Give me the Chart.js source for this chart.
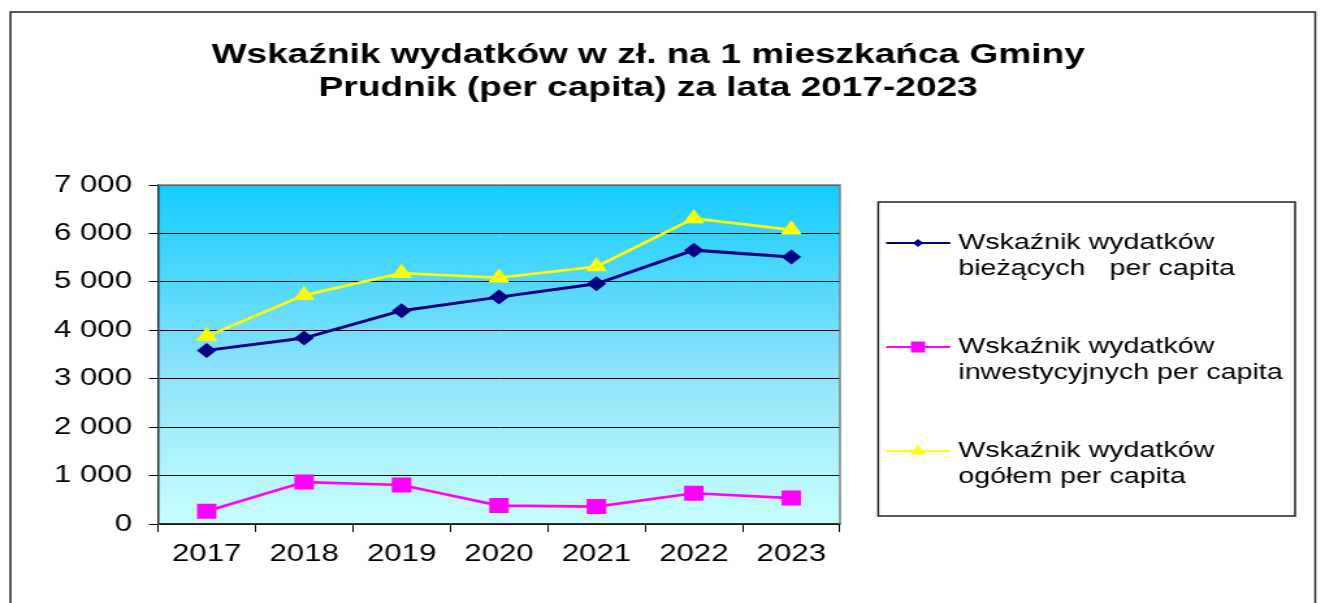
<!DOCTYPE html>
<html lang="pl">
<head>
<meta charset="UTF-8">
<title>Wskaźnik wydatków per capita</title>
<script src="https://cdn.jsdelivr.net/npm/chart.js@4.4.1/dist/chart.umd.min.js"></script>
<style>
    html, body { margin: 0; padding: 0; background: #fff; overflow: hidden; }
    /* the original picture is stretched sideways, so we draw narrow and scale */
    #wrap { width: 1019px; height: 603px; transform: scaleX(1.3003); transform-origin: 0 0; }
</style>
</head>
<body>
<div id="wrap"><canvas id="myChart"></canvas></div>
<script>
const years = ['2017', '2018', '2019', '2020', '2021', '2022', '2023'];
const biezace = [3585, 3840, 4405, 4685, 4960, 5655, 5515];
const inwestycyjne = [265, 865, 805, 380, 360, 635, 535];
const ogolem = [3875, 4725, 5180, 5085, 5315, 6310, 6075];
const legendLines = [
    ['Wskaźnik wydatków', 'bieżących   per capita'],
    ['Wskaźnik wydatków', 'inwestycyjnych per capita'],
    ['Wskaźnik wydatków', 'ogółem per capita']
];
const titleLines = ['Wskaźnik wydatków w zł. na 1 mieszkańca Gminy', 'Prudnik (per capita) za lata 2017-2023'];
const yMax = 7000;
const yStep = 1000;

const FONT = '"Liberation Sans", Arial, sans-serif';
const colors = ['#000080', '#FF00FF', '#FFFF00'];
const styles = ['rectRot', 'rect', 'triangle'];

function fmt(v) {
    return String(v).replace(/\B(?=(\d{3})+(?!\d))/g, ' ');
}

function marker(ctx, style, x, y, r, color) {
    ctx.fillStyle = color;
    ctx.beginPath();
    if (style === 'rectRot') {
        ctx.moveTo(x, y - r); ctx.lineTo(x + r, y); ctx.lineTo(x, y + r); ctx.lineTo(x - r, y);
    } else if (style === 'rect') {
        ctx.rect(x - r, y - r, 2 * r, 2 * r);
    } else {
        ctx.moveTo(x, y - r); ctx.lineTo(x + r, y + r * 0.6); ctx.lineTo(x - r, y + r * 0.6);
    }
    ctx.closePath();
    ctx.fill();
}

const decor = {
    id: 'decor',
    beforeDraw(chart) {
        const { ctx, chartArea: a } = chart;
        const g = ctx.createLinearGradient(0, a.top, 0, a.bottom);
        g.addColorStop(0, '#14CCFF');
        g.addColorStop(0.55, '#8DE3FB');
        g.addColorStop(1, '#C8FFFF');
        ctx.save();
        ctx.fillStyle = g;
        ctx.fillRect(a.left, a.top, a.right - a.left, a.bottom - a.top);
        ctx.restore();
    },
    afterDraw(chart) {
        const { ctx, chartArea: a } = chart;
        ctx.save();
        // plot frame, top and right
        ctx.strokeStyle = '#808080';
        ctx.lineWidth = 1.5;
        ctx.beginPath();
        ctx.moveTo(a.left, a.top); ctx.lineTo(a.right, a.top); ctx.lineTo(a.right, a.bottom);
        ctx.stroke();

        // outer border of the chart
        ctx.strokeStyle = '#222';
        ctx.lineWidth = 1.5;
        ctx.strokeRect(8, 12, 1003.5, 700);

        // title
        ctx.fillStyle = '#000';
        ctx.font = 'bold 28.5px ' + FONT;
        ctx.textAlign = 'center';
        ctx.textBaseline = 'middle';
        ctx.fillText(titleLines[0], 498.5, 55);
        ctx.fillText(titleLines[1], 498.5, 88);

        // legend
        ctx.strokeStyle = '#222';
        ctx.lineWidth = 1.5;
        ctx.strokeRect(675.4, 202, 320.6, 314);
        const rows = [243, 347, 451];
        const sizes = [4, 5.5, 6];
        ctx.font = '22px ' + FONT;
        ctx.textAlign = 'left';
        rows.forEach((y, i) => {
            ctx.strokeStyle = colors[i];
            ctx.lineWidth = 2.2;
            ctx.beginPath();
            ctx.moveTo(681.5, y); ctx.lineTo(730.8, y);
            ctx.stroke();
            marker(ctx, styles[i], 706, y, sizes[i], colors[i]);
            ctx.fillStyle = '#000';
            ctx.fillText(legendLines[i][0], 737, y);
            ctx.fillText(legendLines[i][1], 737, y + 25.5);
        });
        ctx.restore();
    }
};

function line(data, i, r, w) {
    return {
        data: data,
        borderColor: colors[i],
        backgroundColor: colors[i],
        pointBackgroundColor: colors[i],
        pointBorderColor: colors[i],
        pointBorderWidth: 0,
        borderWidth: w,
        pointStyle: styles[i],
        pointRadius: r,
        tension: 0,
        fill: false
    };
}

new Chart(document.getElementById('myChart').getContext('2d'), {
    type: 'line',
    data: {
        labels: years,
        datasets: [line(biezace, 0, 7.5, 3), line(inwestycyjne, 1, 10.6, 2.7), line(ogolem, 2, 9.5, 2.7)]
    },
    options: {
        responsive: true,
        maintainAspectRatio: false,
        animation: false,
        events: [],
        layout: { padding: { top: 185, right: 373, bottom: 0, left: 0 } },
        plugins: { legend: { display: false }, title: { display: false }, tooltip: { enabled: false } },
        scales: {
            x: {
                offset: true,
                grid: { offset: true, drawOnChartArea: false, tickLength: 8, color: '#000' },
                border: { color: '#333', width: 1.5 },
                ticks: { color: '#000', font: { family: FONT, size: 24 }, padding: 8, maxRotation: 0 },
                afterFit(s) { s.height = 79; }
            },
            y: {
                min: 0,
                max: yMax,
                grid: { color: '#000', lineWidth: 1, tickLength: 7 },
                border: { color: '#333', width: 1.5 },
                ticks: { stepSize: yStep, color: '#000', font: { family: FONT, size: 24 }, padding: 13, callback: v => fmt(v) },
                afterFit(s) { s.width = 121.5; }
            }
        }
    },
    plugins: [decor]
});
</script>
</body>
</html>
